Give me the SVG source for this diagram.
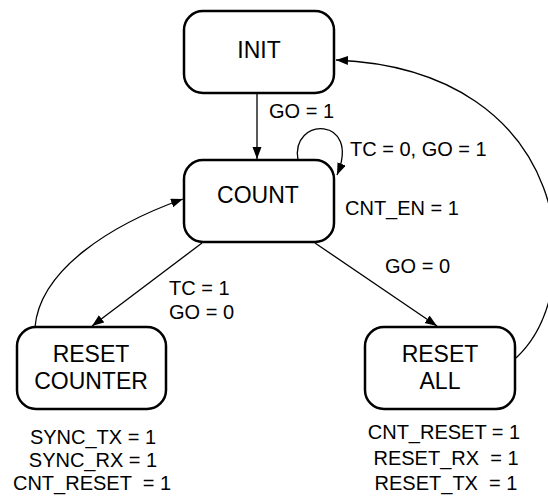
<svg xmlns="http://www.w3.org/2000/svg" width="548" height="497" viewBox="0 0 548 497">
<style>
.box{fill:#fff;stroke:#000;stroke-width:2.5}
.nt{font-family:"Liberation Sans",Arial,sans-serif;font-size:23px;text-anchor:middle;fill:#000}
.lb{font-family:"Liberation Sans",Arial,sans-serif;font-size:20px;fill:#000;white-space:pre}
.mid{text-anchor:middle}
.edge{fill:none;stroke:#000;stroke-width:1.3;marker-end:url(#ah)}
</style>
<defs>
<marker id="ah" markerUnits="userSpaceOnUse" markerWidth="13" markerHeight="10" refX="12" refY="4.5" orient="auto">
<path d="M0,0 L12,4.5 L0,9 z" fill="#000"/>
</marker>
</defs>
<rect width="548" height="497" fill="#fff"/>
<g id="connectors">
<path class="edge" d="M257,93 L257,159"/>
<path class="edge" d="M298,160 C290,116 362,116 337,175"/>
<path class="edge" d="M202,243 L92,326"/>
<path class="edge" d="M315,243 L437,326"/>
<path class="edge" d="M35,327 C40,270 110,225 183,199"/>
<path class="edge" d="M516,358 C590,290 575,70 336,60"/>
<text class="lb" x="269" y="118">GO = 1</text>
<text class="lb" x="350" y="156">TC = 0, GO = 1</text>
<text class="lb" x="345" y="215">CNT_EN = 1</text>
<text class="lb" x="169" y="295">TC = 1</text>
<text class="lb" x="169" y="319">GO = 0</text>
<text class="lb" x="385" y="273">GO = 0</text>
</g>
<g id="init">
<rect class="box" x="184" y="11" width="150" height="82" rx="19"/>
<text class="nt" x="259" y="58">INIT</text>
</g>
<g id="count">
<rect class="box" x="184" y="160" width="150" height="82" rx="19"/>
<text class="nt" x="258" y="203">COUNT</text>
</g>
<g id="reset_counter">
<rect class="box" x="17" y="327" width="149" height="82" rx="19"/>
<text class="nt" x="91" y="362">RESET</text>
<text class="nt" x="91" y="389">COUNTER</text>
<text class="lb mid" x="93" y="444">SYNC_TX = 1</text>
<text class="lb mid" x="93" y="467">SYNC_RX = 1</text>
<text class="lb mid" x="92" y="490">CNT_RESET  = 1</text>
</g>
<g id="reset_all">
<rect class="box" x="365" y="327" width="150" height="82" rx="19"/>
<text class="nt" x="440" y="362">RESET</text>
<text class="nt" x="440" y="389">ALL</text>
<text class="lb mid" x="444" y="439">CNT_RESET = 1</text>
<text class="lb mid" x="446" y="465">RESET_RX  = 1</text>
<text class="lb mid" x="446" y="490">RESET_TX  = 1</text>
</g>
</svg>
